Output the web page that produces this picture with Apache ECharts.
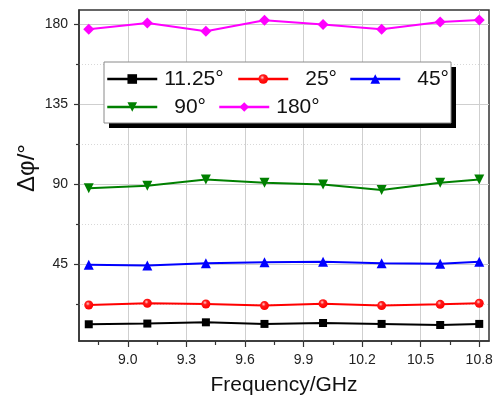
<!DOCTYPE html>
<html>
<head>
<meta charset="utf-8">
<script src="https://cdn.jsdelivr.net/npm/echarts@6/dist/echarts.min.js"></script>
<style>
  html, body { margin: 0; padding: 0; background: #fff; }
  #chart { width: 501px; height: 400px; }
</style>
</head>
<body>
<div id="chart"></div>
<script>
// Frequency points (GHz)
const frequency = [8.8, 9.1, 9.4, 9.7, 10.0, 10.3, 10.6, 10.8];

// Measured phase shift (degrees) for each phase state
const phase11 = [11.4, 11.8, 12.5, 11.6, 12.1, 11.6, 11.0, 11.6];
const phase25 = [22.2, 23.2, 22.8, 21.9, 23.0, 21.9, 22.6, 23.2];
const phase45 = [44.8, 44.4, 45.7, 46.3, 46.5, 45.7, 45.4, 46.5];
const phase90 = [87.8, 89.2, 92.8, 90.9, 90.0, 86.8, 90.9, 92.8];
const phase180 = [177.2, 180.7, 176.1, 182.2, 179.8, 177.2, 181.3, 182.4];

// Axis ticks
const xMajorTicks = [9.0, 9.3, 9.6, 9.9, 10.2, 10.5, 10.8];
const xMinorTicks = [8.85, 9.15, 9.45, 9.75, 10.05, 10.35, 10.65];
const yMajorTicks = [45, 90, 135, 180];
const yMinorTicks = [22.5, 67.5, 112.5, 157.5];

const seriesNames = ['11.25°', '25°', '45°', '90°', '180°'];

const chart = echarts.init(document.getElementById('chart'), null, { renderer: 'canvas' });

const pairs = (ys) => frequency.map((f, i) => [f, ys[i]]);
const font = '"Liberation Sans", Arial, sans-serif';

const sphere = {
  type: 'radial', x: 0.4, y: 0.35, r: 0.65,
  colorStops: [
    { offset: 0, color: '#ffd0d0' },
    { offset: 0.35, color: '#ff1a1a' },
    { offset: 1, color: '#ff0000' }
  ]
};

function lineSeries(name, ys, color, symbol, size, itemColor) {
  return {
    name: name,
    type: 'line',
    xAxisIndex: 0,
    yAxisIndex: 0,
    data: pairs(ys),
    symbol: symbol,
    symbolSize: size,
    showAllSymbol: true,
    lineStyle: { color: color, width: 2 },
    itemStyle: { color: itemColor || color, borderColor: color, borderWidth: 0 },
    emphasis: { disabled: true },
    animation: false,
    z: 5
  };
}

function legendAt(name, left, top, padLeft) {
  return {
    data: [name],
    left: left,
    top: top,
    padding: 0,
    itemWidth: 50,
    itemHeight: 12,
    itemGap: 0,
    selectedMode: false,
    lineStyle: { width: 2.5 },
    textStyle: {
      fontSize: 21,
      fontFamily: font,
      color: '#111',
      lineHeight: 24,
      padding: [0, 0, 0, padLeft]
    },
    z: 10
  };
}

const option = {
  backgroundColor: '#fff',
  animation: false,
  grid: {
    left: 79, top: 10, right: 12, bottom: 59,
    show: true, borderColor: '#333', borderWidth: 1.5,
    containLabel: false,
    outerBoundsMode: 'none'
  },
  xAxis: [
    {
      type: 'value', min: 8.75, max: 10.85, position: 'bottom',
      name: 'Frequency/GHz', nameLocation: 'middle', nameGap: 34, nameMoveOverlap: false,
      nameTextStyle: { fontSize: 21, fontFamily: font, color: '#111' },
      axisLine: { show: true, lineStyle: { color: '#333', width: 1.5 } },
      axisTick: { show: true, inside: false, length: 6, customValues: xMajorTicks,
        lineStyle: { color: '#333', width: 1.2 } },
      axisLabel: { show: true, customValues: xMajorTicks, margin: 12,
        fontSize: 14, fontFamily: font, color: '#222',
        formatter: (v) => v.toFixed(1) },
      splitLine: { show: true, lineStyle: { color: '#cfcfcf', width: 1 } }
    },
    {
      type: 'value', min: 8.75, max: 10.85, position: 'bottom',
      axisLine: { show: false },
      axisTick: { show: true, inside: false, length: 4, customValues: xMinorTicks,
        lineStyle: { color: '#333', width: 1.2 } },
      axisLabel: { show: false },
      splitLine: { show: false }
    }
  ],
  yAxis: [
    {
      type: 'value', min: 2, max: 188, position: 'left',
      name: 'Δφ/°', nameLocation: 'middle', nameGap: 40, nameRotate: 90, nameMoveOverlap: false,
      nameTextStyle: { fontSize: 24, fontFamily: font, color: '#111', padding: [0, 0, 0, 15] },
      axisLine: { show: true, lineStyle: { color: '#333', width: 1.5 } },
      axisTick: { show: true, inside: false, length: 5, customValues: yMajorTicks,
        lineStyle: { color: '#333', width: 1.2 } },
      axisLabel: { show: true, customValues: yMajorTicks, margin: 11,
        fontSize: 14, fontFamily: font, color: '#222' },
      splitLine: { show: true, lineStyle: { color: '#cfcfcf', width: 1 } }
    },
    {
      type: 'value', min: 2, max: 188, position: 'left',
      axisLine: { show: false },
      axisTick: { show: true, inside: false, length: 3, customValues: yMinorTicks,
        lineStyle: { color: '#333', width: 1.2 } },
      axisLabel: { show: false },
      splitLine: { show: true, lineStyle: { color: '#d8d8d8', width: 1, type: [1, 2] } }
    }
  ],
  legend: [
    legendAt(seriesNames[0], 106, 67, 2),
    legendAt(seriesNames[1], 237, 67, 12),
    legendAt(seriesNames[2], 349, 67, 12),
    legendAt(seriesNames[3], 106, 95, 12),
    legendAt(seriesNames[4], 218, 95, 2)
  ],
  graphic: [
    { type: 'rect', z: 8, silent: true,
      shape: { x: 109, y: 67, width: 347, height: 61 },
      style: { fill: '#000' } },
    { type: 'rect', z: 8, silent: true,
      shape: { x: 104, y: 62, width: 347, height: 61 },
      style: { fill: '#fff', stroke: '#8a8a8a', lineWidth: 1 } }
  ],
  series: [
    lineSeries(seriesNames[0], phase11, '#000000', 'rect', 8),
    lineSeries(seriesNames[1], phase25, '#ff0000', 'circle', 9, sphere),
    lineSeries(seriesNames[2], phase45, '#0000ff', 'triangle', 10),
    lineSeries(seriesNames[3], phase90, '#008000', 'path://M0,0 L10,0 L5,9 Z', 10),
    lineSeries(seriesNames[4], phase180, '#ff00ff', 'diamond', 11)
  ]
};

chart.setOption(option);
</script>
</body>
</html>
